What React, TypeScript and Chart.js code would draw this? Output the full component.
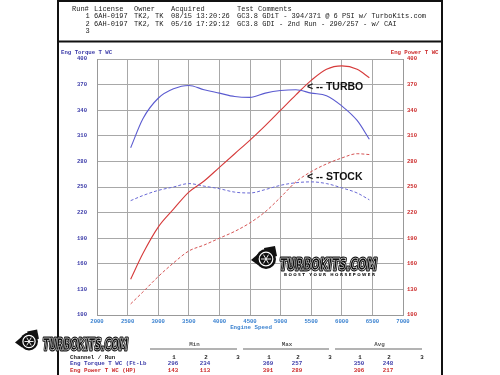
import { useEffect, useRef } from 'react';
import { Chart, registerables } from 'chart.js';
Chart.register(...registerables);

// ---- data ----
const rpm = [2550, 2750, 3000, 3250, 3500, 3750, 4000, 4250, 4500, 4750, 5000, 5250, 5500, 5750, 6000, 6250, 6450];
const turboTorque = [296, 330, 354, 365, 369, 364, 360, 356, 355, 360, 363, 364, 360, 357, 345, 328, 306];
const turboPower = [142, 172, 203, 224, 244, 257, 273, 289, 305, 322, 340, 358, 375, 388, 392, 388, 378];
const stockTorque = [234, 240, 246, 250, 254, 251, 248, 244, 243, 247, 252, 255, 256, 254, 249, 243, 235];
const stockPower = [113, 127, 145, 161, 175, 182, 190, 198, 208, 221, 238, 256, 268, 277, 284, 289, 288];

const xMin = 2000, xMax = 7000, xStep = 500;
const yMin = 100, yMax = 400, yStep = 30;

const headerCols = ['Run#', 'License', 'Owner', 'Acquired', 'Test Comments'];
const runNumbers = ['1', '2', '3'];
const runLicense = ['6AH-0197', '6AH-0197', ''];
const runOwner = ['TK2, TK', 'TK2, TK', ''];
const runAcquired = ['08/15 13:20:26', '05/16 17:29:12', ''];
const runComments = ['GC3.8 GDiT - 394/371 @ 6 PSI w/ TurboKits.com', 'GC3.8 GDI - 2nd Run - 290/257 - w/ CAI', ''];

const statGroups = ['Min', 'Max', 'Avg'];
const channelNames = ['Eng Torque T WC (Ft-Lb', 'Eng Power T WC (HP)'];
const torqueStats = ['296', '234', '', '369', '257', '', '350', '248', ''];
const powerStats = ['143', '113', '', '391', '289', '', '306', '217', ''];

const BLUE = '#3a3aa8';
const RED = '#cc2a2a';
const XBLUE = '#3b82d0';
const MONO = '"Liberation Mono", "DejaVu Sans Mono", monospace';

function drawLogo(ctx: CanvasRenderingContext2D, cx: number, cy: number, r: number,
  tx: number, ty: number, tw: number, fs: number, tag: boolean) {
  ctx.save();
  ctx.fillStyle = '#111';
  // spout
  ctx.beginPath();
  ctx.moveTo(cx - r * 0.2, cy - r - 1);
  ctx.lineTo(cx + r * 0.9, cy - r - 3);
  ctx.lineTo(cx + r * 1.1, cy - r * 0.3);
  ctx.lineTo(cx, cy);
  ctx.closePath();
  ctx.fill();
  // left pointer
  ctx.beginPath();
  ctx.moveTo(cx - r - 5, cy + 1);
  ctx.lineTo(cx - r + 2, cy - 5);
  ctx.lineTo(cx - r + 2, cy + 6);
  ctx.closePath();
  ctx.fill();
  ctx.beginPath();
  ctx.arc(cx, cy, r, 0, Math.PI * 2);
  ctx.fill();
  ctx.strokeStyle = '#fff';
  ctx.lineWidth = 1.2;
  ctx.beginPath();
  ctx.arc(cx, cy, r * 0.68, 0, Math.PI * 2);
  ctx.stroke();
  ctx.lineWidth = 0.9;
  for (let i = 0; i < 6; i++) {
    const a = (i * Math.PI) / 3;
    ctx.beginPath();
    ctx.moveTo(cx, cy);
    ctx.lineTo(cx + Math.cos(a) * r * 0.5, cy + Math.sin(a) * r * 0.5);
    ctx.stroke();
  }
  // text
  ctx.font = `italic bold ${fs}px "DejaVu Sans Condensed", "DejaVu Sans", sans-serif`;
  ctx.textBaseline = 'alphabetic';
  ctx.textAlign = 'left';
  const w = ctx.measureText('TURBOKITS.COM').width;
  ctx.save();
  ctx.translate(tx, ty);
  ctx.scale(tw / w, 1);
  ctx.lineJoin = 'round';
  ctx.strokeStyle = '#111';
  ctx.lineWidth = 3;
  ctx.strokeText('TURBOKITS.COM', 0, 0);
  ctx.fillStyle = '#111';
  ctx.fillText('TURBOKITS.COM', 0, 0);
  ctx.strokeStyle = '#fff';
  ctx.lineWidth = 0.6;
  ctx.strokeText('TURBOKITS.COM', 0, 0);
  ctx.restore();
  if (tag) {
    ctx.font = `bold 4px "DejaVu Sans", sans-serif`;
    const t = 'B O O S T   Y O U R   H O R S E P O W E R';
    const tw2 = ctx.measureText(t).width;
    ctx.save();
    ctx.translate(tx + 4, ty + 5.5);
    ctx.scale((tw - 6) / tw2, 1);
    ctx.fillStyle = '#111';
    ctx.fillText(t, 0, 0);
    ctx.restore();
  }
  ctx.restore();
}

const decorPlugin = {
  id: 'decor',
  beforeDraw(chart: any) {
    const ctx = chart.ctx as CanvasRenderingContext2D;
    ctx.save();
    ctx.fillStyle = '#fff';
    ctx.fillRect(0, 0, chart.width, chart.height);
    ctx.restore();
  },
  afterDraw(chart: any) {
    const ctx = chart.ctx as CanvasRenderingContext2D;
    ctx.save();
    // frame
    ctx.strokeStyle = '#111';
    ctx.lineWidth = 2;
    ctx.beginPath();
    ctx.moveTo(58, 0); ctx.lineTo(58, 375);
    ctx.moveTo(442, 0); ctx.lineTo(442, 375);
    ctx.moveTo(58, 1); ctx.lineTo(442, 1);
    ctx.moveTo(58, 41.5); ctx.lineTo(442, 41.5);
    ctx.stroke();

    // header
    ctx.fillStyle = '#222';
    ctx.font = `7px ${MONO}`;
    ctx.textBaseline = 'middle';
    ctx.textAlign = 'left';
    const colX = [72, 94, 134, 171, 237];
    headerCols.forEach((h, i) => ctx.fillText(h, colX[i], 9));
    const rowY = [16.6, 24.1, 31.6];
    runNumbers.forEach((n, i) => {
      const y = rowY[i];
      ctx.fillText(n, 85.5, y);
      ctx.fillText(runLicense[i], colX[1], y);
      ctx.fillText(runOwner[i], colX[2], y);
      ctx.fillText(runAcquired[i], colX[3], y);
      ctx.fillText(runComments[i], colX[4], y);
    });

    // axis titles
    ctx.font = `bold 5.7px ${MONO}`;
    ctx.fillStyle = BLUE;
    ctx.textAlign = 'left';
    ctx.fillText('Eng Torque T WC', 61, 52.5);
    ctx.fillStyle = RED;
    ctx.textAlign = 'right';
    ctx.fillText('Eng Power T WC', 438.5, 52.5);
    ctx.fillStyle = XBLUE;
    ctx.textAlign = 'center';
    ctx.font = `bold 5.8px ${MONO}`;
    ctx.fillText('Engine Speed', 251, 327.5);

    // annotations
    ctx.fillStyle = '#111';
    ctx.textAlign = 'left';
    ctx.font = 'bold 10.5px "Liberation Sans", Arial, sans-serif';
    ctx.fillText('< -- TURBO', 307, 87);
    ctx.fillText('< -- STOCK', 307, 177);

    // logos
    drawLogo(ctx, 266, 259, 10, 280, 270, 97, 16, true);
    drawLogo(ctx, 29, 341.5, 9, 43, 350, 85, 15, false);

    // table
    ctx.strokeStyle = '#9a9a9a';
    ctx.lineWidth = 1.5;
    const groupSpans = [[150, 237], [243, 329], [335, 422]];
    ctx.font = `bold 5.8px ${MONO}`;
    ctx.textAlign = 'center';
    groupSpans.forEach(([a, b], i) => {
      ctx.beginPath();
      ctx.moveTo(a, 349); ctx.lineTo(b, 349);
      ctx.stroke();
      ctx.fillStyle = '#555';
      ctx.fillText(statGroups[i], (a + b) / 2 + 1, 345);
    });
    const numX = [174, 206, 238, 269, 298, 330, 360, 389, 422];
    ctx.fillStyle = '#222';
    numX.forEach((x, i) => ctx.fillText(runNumbers[i % 3], x, 357.6));
    ctx.fillStyle = BLUE;
    numX.forEach((x, i) => torqueStats[i] && ctx.fillText(torqueStats[i], x - 1, 363.6));
    ctx.fillStyle = RED;
    numX.forEach((x, i) => powerStats[i] && ctx.fillText(powerStats[i], x - 1, 370.6));
    ctx.textAlign = 'left';
    ctx.fillStyle = '#222';
    ctx.fillText('Channel / Run', 70, 357.6);
    ctx.fillStyle = BLUE;
    ctx.fillText(channelNames[0], 70, 363.6);
    ctx.fillStyle = RED;
    ctx.fillText(channelNames[1], 70, 370.6);
    ctx.restore();
  },
};

function pts(vals: number[]) {
  return rpm.map((r, i) => ({ x: r, y: vals[i] }));
}

export default function App() {
  const ref = useRef<HTMLCanvasElement>(null);
  useEffect(() => {
    if (!ref.current) return;
    const tickFont = { family: MONO, size: 5.6, weight: 'bold' as const };
    const chart = new Chart(ref.current, {
      type: 'line',
      data: {
        datasets: [
          { label: 'Turbo Torque', data: pts(turboTorque), yAxisID: 'y', borderColor: '#5b5bd0', borderWidth: 1.1 },
          { label: 'Stock Torque', data: pts(stockTorque), yAxisID: 'y', borderColor: '#6a6ad6', borderWidth: 1, borderDash: [3, 2] },
          { label: 'Turbo Power', data: pts(turboPower), yAxisID: 'y1', borderColor: '#d63a3a', borderWidth: 1.1 },
          { label: 'Stock Power', data: pts(stockPower), yAxisID: 'y1', borderColor: '#d65454', borderWidth: 1, borderDash: [3, 2] },
        ],
      },
      options: {
        responsive: false,
        animation: false,
        devicePixelRatio: 1,
        layout: { padding: { top: 59, left: 0, right: 0, bottom: 0 } },
        elements: { point: { radius: 0 }, line: { cubicInterpolationMode: 'monotone', fill: false } },
        plugins: { legend: { display: false }, tooltip: { enabled: false } },
        scales: {
          x: {
            type: 'linear', min: xMin, max: xMax,
            afterFit: (s: any) => { s.height = 60; },
            ticks: { stepSize: xStep, color: XBLUE, font: tickFont, padding: 3, maxRotation: 0, autoSkip: false, callback: (v: any) => String(v) },
            grid: { color: '#a8a8a8', lineWidth: 1, drawTicks: false },
            border: { display: true, color: '#999' },
          },
          y: {
            type: 'linear', position: 'left', min: yMin, max: yMax,
            afterFit: (s: any) => { s.width = 97; },
            ticks: { stepSize: yStep, color: BLUE, font: tickFont, padding: 10, autoSkip: false, callback: (v: any) => String(v) },
            grid: { color: '#a8a8a8', lineWidth: 1, drawTicks: false },
            border: { display: true, color: '#999' },
          },
          y1: {
            type: 'linear', position: 'right', min: yMin, max: yMax,
            afterFit: (s: any) => { s.width = 97; },
            ticks: { stepSize: yStep, color: RED, font: tickFont, padding: 4, autoSkip: false, callback: (v: any) => String(v) },
            grid: { display: false, drawTicks: false },
            border: { display: true, color: '#999' },
          },
        },
      },
      plugins: [decorPlugin],
    } as any);
    return () => chart.destroy();
  }, []);
  return (
    <div style={{ position: 'absolute', left: 0, top: 0, width: 500, height: 375 }}>
      <canvas ref={ref} width={500} height={375} style={{ display: 'block' }} />
    </div>
  );
}
